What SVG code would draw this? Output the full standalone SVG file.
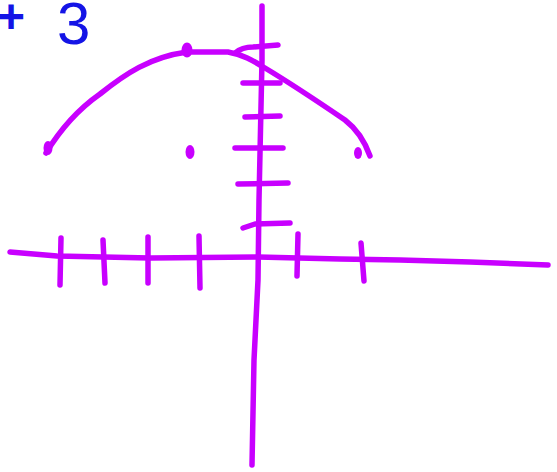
<svg xmlns="http://www.w3.org/2000/svg" width="557" height="472" viewBox="0 0 557 472">
<style>
.m{fill:none;stroke:#c800ff;stroke-width:5.5;stroke-linecap:round;stroke-linejoin:round}
.d{fill:#c800ff}
.lbl{font-family:"Liberation Sans",Arial,sans-serif;fill:#1414e6}
</style>
<rect width="557" height="472" fill="#ffffff"/>
<g id="label">
<text class="lbl" xml:space="preserve"><tspan x="-3" y="33" font-size="48" font-weight="bold">+</tspan><tspan x="57" y="44" font-size="60">3</tspan></text>
</g>
<g id="axes">
<path class="m" d="M262,6 L262,60 L259,200 L258,280 L254,360 L252,465"/>
<path class="m" d="M10,252 L57,256 L150,258 L258,257 L340,259 L400,260 L470,262 L548,265"/>
</g>
<g id="x-ticks">
<path class="m" d="M61,238 L60,285"/>
<path class="m" d="M103,240 L105,283"/>
<path class="m" d="M148,237 L148,283"/>
<path class="m" d="M199,236 L200,288"/>
<path class="m" d="M298,234 L297,276"/>
<path class="m" d="M361,243 L364,281"/>
</g>
<g id="y-ticks">
<path class="m" d="M235,53 Q242,47 253,47 L278,45"/>
<path class="m" d="M243,83 L280,83"/>
<path class="m" d="M245,117 L280,116"/>
<path class="m" d="M235,148 L283,148"/>
<path class="m" d="M238,184 L288,183"/>
<path class="m" d="M243,228 L255,224 L290,223"/>
</g>
<g id="curve">
<path class="m" d="M46,153 C60,130 80,108 100,94 C125,74 150,57 187,52 L228,52 C245,55 255,62 265,68 C290,83 320,103 345,120 C358,130 365,142 370,156"/>
</g>
<g id="points">
<ellipse class="d" cx="48" cy="148" rx="4.5" ry="7"/>
<ellipse class="d" cx="187" cy="50" rx="5.5" ry="7.5"/>
<ellipse class="d" cx="190" cy="152" rx="4.5" ry="7"/>
<ellipse class="d" cx="358" cy="153" rx="4" ry="6"/>
</g>
</svg>
